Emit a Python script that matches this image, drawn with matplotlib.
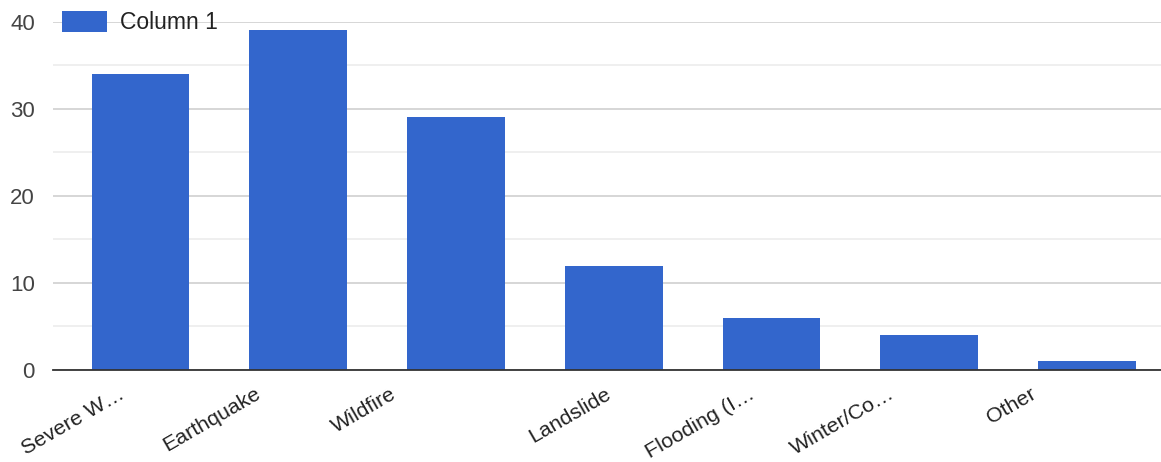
import matplotlib
matplotlib.use("Agg")
import matplotlib.pyplot as plt
from matplotlib.transforms import ScaledTranslation
from matplotlib.ticker import MultipleLocator

categories = ["Severe W…", "Earthquake", "Wildfire", "Landslide",
              "Flooding (I…", "Winter/Co…", "Other"]
values = [34, 39, 29, 12, 6, 4, 1]
series_name = "Column 1"
y_ticks = [0, 10, 20, 30, 40]

# horizontal nudge (px) of each rotated category label
label_dx = [-15, -36, -58, -1, -16, -34, -50]

BAR = "#3366cc"
W, H = 1161, 462
DPI = 100

plt.rcParams["font.family"] = ["Liberation Sans", "DejaVu Sans"]

fig = plt.figure(figsize=(W / DPI, H / DPI), dpi=DPI)
ax_left, ax_right = 53, 1161
ax_bottom, ax_top = 370, 21.7
ax = fig.add_axes([ax_left / W, 1 - ax_bottom / H,
                   (ax_right - ax_left) / W, (ax_bottom - ax_top) / H])

x = list(range(len(categories)))
bars = ax.bar(x, values, width=0.62, color=BAR, zorder=3, label=series_name)

ax.set_xlim(-0.555, 6.47)
ax.set_ylim(0, 40)
ax.set_yticks(y_ticks)
ax.yaxis.set_minor_locator(MultipleLocator(5))
ax.grid(axis="y", which="major", color="#cccccc", linewidth=1.1, zorder=0)
ax.grid(axis="y", which="minor", color="#ebebeb", linewidth=1.1, zorder=0)
ax.set_axisbelow(True)

for s in ("top", "right", "left"):
    ax.spines[s].set_visible(False)
ax.spines["bottom"].set_color("#333333")
ax.spines["bottom"].set_linewidth(1.3)
ax.spines["bottom"].set_zorder(4)

ax.tick_params(axis="y", which="both", length=0, pad=13,
               labelsize=16, labelcolor="#444444")
ax.tick_params(axis="x", length=0, labelbottom=False)
ax.set_xticks(x)

for i, (lab, dx) in enumerate(zip(categories, label_dx)):
    off = ScaledTranslation(dx / DPI, -27 / DPI, fig.dpi_scale_trans)
    ax.text(i, 0, lab, transform=ax.get_xaxis_transform() + off,
            rotation=30, rotation_mode="anchor", ha="right", va="baseline",
            fontsize=15.4, color="#222222")

leg = ax.legend(handles=[bars], loc="upper left",
                bbox_to_anchor=(62 / W, 1 - 11 / H),
                bbox_transform=fig.transFigure, frameon=False,
                borderpad=0, borderaxespad=0, handlelength=1.96,
                handleheight=1.0, handletextpad=0.57,
                prop={"size": 16.5})
for t in leg.get_texts():
    t.set_color("#222222")
leg.set_zorder(5)

fig.savefig("out.png", dpi=DPI)
